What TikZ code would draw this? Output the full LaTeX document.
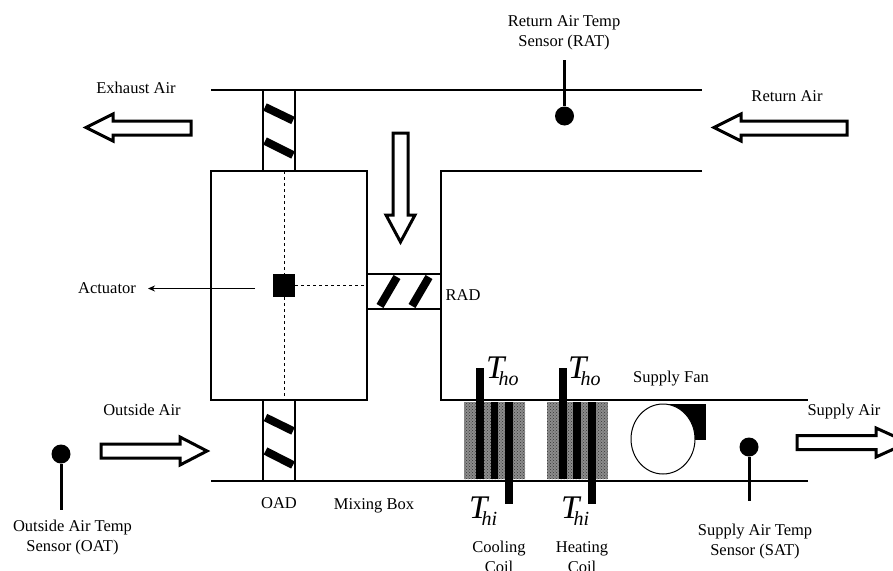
\documentclass[tikz,border=0pt]{standalone}
\usepackage{fontspec}
\setmainfont{Liberation Serif}
\usetikzlibrary{patterns,arrows.meta,shapes.geometric}
\newcommand{\Tlab}[1]{\fontsize{33}{33}\selectfont\itshape T\kern-6pt\raisebox{-7pt}{\fontsize{20}{20}\selectfont #1}}
\tikzset{
 x=1pt,y=-1pt,
 duct/.style={line width=2.2pt},
 thinline/.style={line width=1pt},
 lab/.style={font=\fontsize{16.5}{20}\selectfont,align=center,inner sep=0pt},
 tlab/.style={inner sep=0pt,anchor=base west},
 hollow/.style={draw=black,line width=3pt,fill=white,miter limit=10},
 blade/.style={line width=8pt},
 tube/.style={fill=black},
 sensor/.style={circle,fill=black,inner sep=0pt,minimum size=19pt},
 stem/.style={line width=3pt}
}
\begin{document}
\begin{tikzpicture}
\useasboundingbox (0,0) rectangle (893,570);
\clip (0,0) rectangle (893,570);
\fill[white] (0,0) rectangle (893,570);
% ducts
\draw[duct] (211,90) -- (702,90);
\draw[duct] (702,171) -- (441,171) -- (441,400) -- (808,400);
\draw[duct] (808,481) -- (211,481);
\draw[duct] (211,171) rectangle (367,400);
\draw[duct] (263,90) -- (263,171) (295,90) -- (295,171);
\draw[duct] (263,400) -- (263,481) (295,400) -- (295,481);
\draw[duct] (367,274) -- (441,274) (367,309) -- (441,309);
% damper blades
\draw[blade] (265,107) -- (293,120.5);
\draw[blade] (265,141) -- (293,155);
\draw[blade] (265.5,417.5) -- (293,431);
\draw[blade] (265.5,451) -- (293,465);
\draw[blade] (380,306) -- (397,277);
\draw[blade] (412,306) -- (429,277);
% actuator
\node[fill=black,minimum width=22pt,minimum height=23pt,inner sep=0pt] (act) at (284,285.5) {};
\draw[thinline,dashed] (284,171) -- (act.north);
\draw[thinline,dashed] (act.south) -- (284,400);
\draw[thinline,dashed] (act.east) -- (367,285.5);
\coordinate (actfrom) at (255,288.5);
\node[lab] (actlab) at (107,288) {Actuator};
\draw[thinline,-{Stealth[length=7pt,width=6pt]}] (actfrom) -- (148,288.5);
% hollow arrows
\draw[hollow] (191,121) -- (113,121) -- (113,114) -- (86,127.5) -- (113,141) -- (113,135) -- (191,135) -- cycle;
\draw[hollow] (847,121) -- (741,121) -- (741,114) -- (714,127.5) -- (741,141) -- (741,135) -- (847,135) -- cycle;
\draw[hollow] (393,133) -- (408,133) -- (408,215) -- (415,215) -- (400.5,242) -- (386,215) -- (393,215) -- cycle;
\draw[hollow] (101,444) -- (180,444) -- (180,437) -- (207,451) -- (180,465) -- (180,458) -- (101,458) -- cycle;
\draw[hollow] (797,435.5) -- (876,435.5) -- (876,428) -- (908,442.5) -- (876,457) -- (876,449.5) -- (797,449.5) -- cycle;
% coils
\fill[black!45] (464,402) rectangle (525,479);
\fill[black!45] (547,402) rectangle (607.5,479);
\fill[pattern=crosshatch dots,pattern color=black!80] (464,402) rectangle (525,479);
\fill[pattern=crosshatch dots,pattern color=black!80] (547,402) rectangle (607.5,479);
\fill[tube] (475.5,368) rectangle (484,479);
\fill[tube] (490.5,402) rectangle (498,479);
\fill[tube] (505,402) rectangle (513,504);
\fill[tube] (558.5,368) rectangle (567,479);
\fill[tube] (573,402) rectangle (581,479);
\fill[tube] (588,402) rectangle (596,504);
% fan
\fill[black] (668,404) rectangle (706,440);
\node[ellipse,draw=black,line width=1pt,fill=white,inner sep=0pt,minimum width=64pt,minimum height=70pt] (fan) at (663,439) {};
% sensors
\node[sensor] (rat) at (564.5,116) {};
\coordinate (ratend) at (564.5,60);
\draw[stem] (ratend) -- (rat);
\node[sensor] (oat) at (61,454) {};
\coordinate (oatend) at (61,510);
\draw[stem] (oat) -- (oatend);
\node[sensor] (sat) at (749,447) {};
\coordinate (satend) at (749,501);
\draw[stem] (sat) -- (satend);
% labels
\node[lab] at (564,32.5) {Return Air Temp\\Sensor (RAT)};
\node[lab] at (136,88) {Exhaust Air};
\node[lab] at (787,96) {Return Air};
\node[lab] at (142,410) {Outside Air};
\node[lab] at (463,295) {RAD};
\node[lab] at (671,379) {Supply Fan};
\node[lab] at (844,412) {Supply Air};
\node[lab] at (279,503) {OAD};
\node[lab] at (374,506) {Mixing Box};
\node[lab] at (72.5,538) {Outside Air Temp\\Sensor (OAT)};
\node[lab] at (755,541.5) {Supply Air Temp\\Sensor (SAT)};
\node[lab] at (499,557) {Cooling\\Coil};
\node[lab] at (582,557) {Heating\\Coil};
\node[tlab] at (486,378) {\Tlab{ho}};
\node[tlab] at (568,378) {\Tlab{ho}};
\node[tlab] at (469,518) {\Tlab{hi}};
\node[tlab] at (561,518) {\Tlab{hi}};
\end{tikzpicture}
\end{document}
